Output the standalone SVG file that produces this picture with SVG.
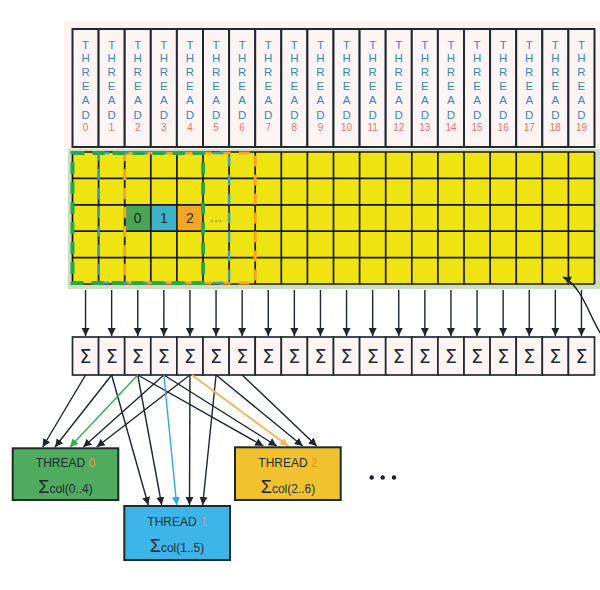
<svg xmlns="http://www.w3.org/2000/svg" width="600" height="590" viewBox="0 0 600 590">
<defs>
<style>
.tb{fill:#fdf5f3;stroke:#1f2b30;stroke-width:2}
.tl{font-family:"Liberation Sans",Arial,sans-serif;font-size:11.5px;fill:#3a86c0;text-anchor:middle}
.tn{font-family:"Liberation Sans",Arial,sans-serif;font-size:10px;fill:#f07070;text-anchor:middle}
.gl{stroke:#151a10;stroke-width:1.7}
.sb{fill:#fdf5f3;stroke:#1f2b30;stroke-width:1.7}
.sg{font-family:"DejaVu Sans",sans-serif;font-size:19px;fill:#1c2a3a;text-anchor:middle}
.ar{stroke:#1c2530;stroke-width:1.4;fill:none}
.bt{font-family:"Liberation Sans",Arial,sans-serif;font-size:12px;fill:#1e2e30}
.bx{stroke:#1e2a2a;stroke-width:2}
.ct{font-family:"Liberation Sans",Arial,sans-serif;font-size:18px;fill:#1a2530;text-anchor:middle}
</style>
<marker id="ah" markerWidth="9" markerHeight="9" refX="8" refY="4.5" orient="auto" markerUnits="userSpaceOnUse"><path d="M0,0.5 L8,4.5 L0,8.5 z" fill="#1c2530"/></marker>
<marker id="ahg" markerWidth="9" markerHeight="9" refX="8" refY="4.5" orient="auto" markerUnits="userSpaceOnUse"><path d="M0,0.5 L8,4.5 L0,8.5 z" fill="#2fb050"/></marker>
<marker id="ahb" markerWidth="9" markerHeight="9" refX="8" refY="4.5" orient="auto" markerUnits="userSpaceOnUse"><path d="M0,0.5 L8,4.5 L0,8.5 z" fill="#30a8e0"/></marker>
<marker id="aho" markerWidth="9" markerHeight="9" refX="8" refY="4.5" orient="auto" markerUnits="userSpaceOnUse"><path d="M0,0.5 L8,4.5 L0,8.5 z" fill="#f5b860"/></marker>
</defs>
<rect x="0" y="0" width="600" height="590" fill="#ffffff"/>
<rect x="64" y="21" width="540" height="131" fill="#fdf4f1"/>

<g id="threads">
<g id="t0"><rect class="tb" x="72.5" y="29" width="26.1" height="118"/><text class="tl"><tspan x="85.55" y="49">T</tspan><tspan x="85.55" y="62">H</tspan><tspan x="85.55" y="76">R</tspan><tspan x="85.55" y="90">E</tspan><tspan x="85.55" y="104">A</tspan><tspan x="85.55" y="119">D</tspan></text><text class="tn" x="85.55" y="131">0</text></g>
<g id="t1"><rect class="tb" x="98.6" y="29" width="26.1" height="118"/><text class="tl"><tspan x="111.65" y="49">T</tspan><tspan x="111.65" y="62">H</tspan><tspan x="111.65" y="76">R</tspan><tspan x="111.65" y="90">E</tspan><tspan x="111.65" y="104">A</tspan><tspan x="111.65" y="119">D</tspan></text><text class="tn" x="111.65" y="131">1</text></g>
<g id="t2"><rect class="tb" x="124.7" y="29" width="26.1" height="118"/><text class="tl"><tspan x="137.75" y="49">T</tspan><tspan x="137.75" y="62">H</tspan><tspan x="137.75" y="76">R</tspan><tspan x="137.75" y="90">E</tspan><tspan x="137.75" y="104">A</tspan><tspan x="137.75" y="119">D</tspan></text><text class="tn" x="137.75" y="131">2</text></g>
<g id="t3"><rect class="tb" x="150.8" y="29" width="26.1" height="118"/><text class="tl"><tspan x="163.85" y="49">T</tspan><tspan x="163.85" y="62">H</tspan><tspan x="163.85" y="76">R</tspan><tspan x="163.85" y="90">E</tspan><tspan x="163.85" y="104">A</tspan><tspan x="163.85" y="119">D</tspan></text><text class="tn" x="163.85" y="131">3</text></g>
<g id="t4"><rect class="tb" x="176.9" y="29" width="26.1" height="118"/><text class="tl"><tspan x="189.95" y="49">T</tspan><tspan x="189.95" y="62">H</tspan><tspan x="189.95" y="76">R</tspan><tspan x="189.95" y="90">E</tspan><tspan x="189.95" y="104">A</tspan><tspan x="189.95" y="119">D</tspan></text><text class="tn" x="189.95" y="131">4</text></g>
<g id="t5"><rect class="tb" x="203" y="29" width="26.1" height="118"/><text class="tl"><tspan x="216.05" y="49">T</tspan><tspan x="216.05" y="62">H</tspan><tspan x="216.05" y="76">R</tspan><tspan x="216.05" y="90">E</tspan><tspan x="216.05" y="104">A</tspan><tspan x="216.05" y="119">D</tspan></text><text class="tn" x="216.05" y="131">5</text></g>
<g id="t6"><rect class="tb" x="229.1" y="29" width="26.1" height="118"/><text class="tl"><tspan x="242.15" y="49">T</tspan><tspan x="242.15" y="62">H</tspan><tspan x="242.15" y="76">R</tspan><tspan x="242.15" y="90">E</tspan><tspan x="242.15" y="104">A</tspan><tspan x="242.15" y="119">D</tspan></text><text class="tn" x="242.15" y="131">6</text></g>
<g id="t7"><rect class="tb" x="255.2" y="29" width="26.1" height="118"/><text class="tl"><tspan x="268.25" y="49">T</tspan><tspan x="268.25" y="62">H</tspan><tspan x="268.25" y="76">R</tspan><tspan x="268.25" y="90">E</tspan><tspan x="268.25" y="104">A</tspan><tspan x="268.25" y="119">D</tspan></text><text class="tn" x="268.25" y="131">7</text></g>
<g id="t8"><rect class="tb" x="281.3" y="29" width="26.1" height="118"/><text class="tl"><tspan x="294.35" y="49">T</tspan><tspan x="294.35" y="62">H</tspan><tspan x="294.35" y="76">R</tspan><tspan x="294.35" y="90">E</tspan><tspan x="294.35" y="104">A</tspan><tspan x="294.35" y="119">D</tspan></text><text class="tn" x="294.35" y="131">8</text></g>
<g id="t9"><rect class="tb" x="307.4" y="29" width="26.1" height="118"/><text class="tl"><tspan x="320.45" y="49">T</tspan><tspan x="320.45" y="62">H</tspan><tspan x="320.45" y="76">R</tspan><tspan x="320.45" y="90">E</tspan><tspan x="320.45" y="104">A</tspan><tspan x="320.45" y="119">D</tspan></text><text class="tn" x="320.45" y="131">9</text></g>
<g id="t10"><rect class="tb" x="333.5" y="29" width="26.1" height="118"/><text class="tl"><tspan x="346.55" y="49">T</tspan><tspan x="346.55" y="62">H</tspan><tspan x="346.55" y="76">R</tspan><tspan x="346.55" y="90">E</tspan><tspan x="346.55" y="104">A</tspan><tspan x="346.55" y="119">D</tspan></text><text class="tn" x="346.55" y="131">10</text></g>
<g id="t11"><rect class="tb" x="359.6" y="29" width="26.1" height="118"/><text class="tl"><tspan x="372.65" y="49">T</tspan><tspan x="372.65" y="62">H</tspan><tspan x="372.65" y="76">R</tspan><tspan x="372.65" y="90">E</tspan><tspan x="372.65" y="104">A</tspan><tspan x="372.65" y="119">D</tspan></text><text class="tn" x="372.65" y="131">11</text></g>
<g id="t12"><rect class="tb" x="385.7" y="29" width="26.1" height="118"/><text class="tl"><tspan x="398.75" y="49">T</tspan><tspan x="398.75" y="62">H</tspan><tspan x="398.75" y="76">R</tspan><tspan x="398.75" y="90">E</tspan><tspan x="398.75" y="104">A</tspan><tspan x="398.75" y="119">D</tspan></text><text class="tn" x="398.75" y="131">12</text></g>
<g id="t13"><rect class="tb" x="411.8" y="29" width="26.1" height="118"/><text class="tl"><tspan x="424.85" y="49">T</tspan><tspan x="424.85" y="62">H</tspan><tspan x="424.85" y="76">R</tspan><tspan x="424.85" y="90">E</tspan><tspan x="424.85" y="104">A</tspan><tspan x="424.85" y="119">D</tspan></text><text class="tn" x="424.85" y="131">13</text></g>
<g id="t14"><rect class="tb" x="437.9" y="29" width="26.1" height="118"/><text class="tl"><tspan x="450.95" y="49">T</tspan><tspan x="450.95" y="62">H</tspan><tspan x="450.95" y="76">R</tspan><tspan x="450.95" y="90">E</tspan><tspan x="450.95" y="104">A</tspan><tspan x="450.95" y="119">D</tspan></text><text class="tn" x="450.95" y="131">14</text></g>
<g id="t15"><rect class="tb" x="464" y="29" width="26.1" height="118"/><text class="tl"><tspan x="477.05" y="49">T</tspan><tspan x="477.05" y="62">H</tspan><tspan x="477.05" y="76">R</tspan><tspan x="477.05" y="90">E</tspan><tspan x="477.05" y="104">A</tspan><tspan x="477.05" y="119">D</tspan></text><text class="tn" x="477.05" y="131">15</text></g>
<g id="t16"><rect class="tb" x="490.1" y="29" width="26.1" height="118"/><text class="tl"><tspan x="503.15" y="49">T</tspan><tspan x="503.15" y="62">H</tspan><tspan x="503.15" y="76">R</tspan><tspan x="503.15" y="90">E</tspan><tspan x="503.15" y="104">A</tspan><tspan x="503.15" y="119">D</tspan></text><text class="tn" x="503.15" y="131">16</text></g>
<g id="t17"><rect class="tb" x="516.2" y="29" width="26.1" height="118"/><text class="tl"><tspan x="529.25" y="49">T</tspan><tspan x="529.25" y="62">H</tspan><tspan x="529.25" y="76">R</tspan><tspan x="529.25" y="90">E</tspan><tspan x="529.25" y="104">A</tspan><tspan x="529.25" y="119">D</tspan></text><text class="tn" x="529.25" y="131">17</text></g>
<g id="t18"><rect class="tb" x="542.3" y="29" width="26.1" height="118"/><text class="tl"><tspan x="555.35" y="49">T</tspan><tspan x="555.35" y="62">H</tspan><tspan x="555.35" y="76">R</tspan><tspan x="555.35" y="90">E</tspan><tspan x="555.35" y="104">A</tspan><tspan x="555.35" y="119">D</tspan></text><text class="tn" x="555.35" y="131">18</text></g>
<g id="t19"><rect class="tb" x="568.4" y="29" width="26.1" height="118"/><text class="tl"><tspan x="581.45" y="49">T</tspan><tspan x="581.45" y="62">H</tspan><tspan x="581.45" y="76">R</tspan><tspan x="581.45" y="90">E</tspan><tspan x="581.45" y="104">A</tspan><tspan x="581.45" y="119">D</tspan></text><text class="tn" x="581.45" y="131">19</text></g>
</g>

<g id="matrix">
<rect x="68" y="149" width="536" height="140" fill="#cfdcc0"/>
<rect x="72.5" y="152" width="522" height="132" fill="#efe412"/>
<rect x="124.7" y="204.8" width="26.1" height="26.4" fill="#4aa556"/>
<rect x="150.8" y="204.8" width="26.1" height="26.4" fill="#3db3c8"/>
<rect x="176.9" y="204.8" width="26.1" height="26.4" fill="#f5a623"/>
<g class="gl">
<line x1="72.5" y1="152" x2="594.5" y2="152"/><line x1="72.5" y1="178.4" x2="594.5" y2="178.4"/><line x1="72.5" y1="204.8" x2="594.5" y2="204.8"/><line x1="72.5" y1="231.2" x2="594.5" y2="231.2"/><line x1="72.5" y1="257.6" x2="594.5" y2="257.6"/><line x1="72.5" y1="284" x2="594.5" y2="284"/>
<line x1="72.5" y1="152" x2="72.5" y2="284"/><line x1="98.6" y1="152" x2="98.6" y2="284"/><line x1="124.7" y1="152" x2="124.7" y2="284"/><line x1="150.8" y1="152" x2="150.8" y2="284"/><line x1="176.9" y1="152" x2="176.9" y2="284"/><line x1="203" y1="152" x2="203" y2="284"/><line x1="229.1" y1="152" x2="229.1" y2="284"/><line x1="255.2" y1="152" x2="255.2" y2="284"/><line x1="281.3" y1="152" x2="281.3" y2="284"/><line x1="307.4" y1="152" x2="307.4" y2="284"/><line x1="333.5" y1="152" x2="333.5" y2="284"/><line x1="359.6" y1="152" x2="359.6" y2="284"/><line x1="385.7" y1="152" x2="385.7" y2="284"/><line x1="411.8" y1="152" x2="411.8" y2="284"/><line x1="437.9" y1="152" x2="437.9" y2="284"/><line x1="464" y1="152" x2="464" y2="284"/><line x1="490.1" y1="152" x2="490.1" y2="284"/><line x1="516.2" y1="152" x2="516.2" y2="284"/><line x1="542.3" y1="152" x2="542.3" y2="284"/><line x1="568.4" y1="152" x2="568.4" y2="284"/><line x1="594.5" y1="152" x2="594.5" y2="284"/>
</g>
<text x="137.75" y="223" font-family="Liberation Sans, Arial, sans-serif" font-size="14" fill="#1e2a1e" text-anchor="middle">0</text>
<text x="163.85" y="223" font-family="Liberation Sans, Arial, sans-serif" font-size="14" fill="#1e2a30" text-anchor="middle">1</text>
<text x="189.95" y="223" font-family="Liberation Sans, Arial, sans-serif" font-size="14" fill="#1e2a1e" text-anchor="middle">2</text>
<text x="216.05" y="222" font-family="Liberation Sans, Arial, sans-serif" font-size="13" fill="#555" text-anchor="middle">…</text>
<rect x="124.7" y="153" width="130.5" height="130" fill="none" stroke="#f2a81e" stroke-width="3" stroke-dasharray="11 8"/>
<rect x="98.6" y="153" width="130.5" height="130" fill="none" stroke="#3aa2b8" stroke-width="2.5" stroke-dasharray="11 8"/>
<rect x="72.5" y="153" width="130.5" height="130" fill="none" stroke="#25a84a" stroke-width="4" stroke-dasharray="12 8"/>
</g>

<g id="sums">
<rect class="sb" x="72.5" y="337" width="26.1" height="38"/><text class="sg" x="85.55" y="363">Σ</text>
<rect class="sb" x="98.6" y="337" width="26.1" height="38"/><text class="sg" x="111.65" y="363">Σ</text>
<rect class="sb" x="124.7" y="337" width="26.1" height="38"/><text class="sg" x="137.75" y="363">Σ</text>
<rect class="sb" x="150.8" y="337" width="26.1" height="38"/><text class="sg" x="163.85" y="363">Σ</text>
<rect class="sb" x="176.9" y="337" width="26.1" height="38"/><text class="sg" x="189.95" y="363">Σ</text>
<rect class="sb" x="203" y="337" width="26.1" height="38"/><text class="sg" x="216.05" y="363">Σ</text>
<rect class="sb" x="229.1" y="337" width="26.1" height="38"/><text class="sg" x="242.15" y="363">Σ</text>
<rect class="sb" x="255.2" y="337" width="26.1" height="38"/><text class="sg" x="268.25" y="363">Σ</text>
<rect class="sb" x="281.3" y="337" width="26.1" height="38"/><text class="sg" x="294.35" y="363">Σ</text>
<rect class="sb" x="307.4" y="337" width="26.1" height="38"/><text class="sg" x="320.45" y="363">Σ</text>
<rect class="sb" x="333.5" y="337" width="26.1" height="38"/><text class="sg" x="346.55" y="363">Σ</text>
<rect class="sb" x="359.6" y="337" width="26.1" height="38"/><text class="sg" x="372.65" y="363">Σ</text>
<rect class="sb" x="385.7" y="337" width="26.1" height="38"/><text class="sg" x="398.75" y="363">Σ</text>
<rect class="sb" x="411.8" y="337" width="26.1" height="38"/><text class="sg" x="424.85" y="363">Σ</text>
<rect class="sb" x="437.9" y="337" width="26.1" height="38"/><text class="sg" x="450.95" y="363">Σ</text>
<rect class="sb" x="464" y="337" width="26.1" height="38"/><text class="sg" x="477.05" y="363">Σ</text>
<rect class="sb" x="490.1" y="337" width="26.1" height="38"/><text class="sg" x="503.15" y="363">Σ</text>
<rect class="sb" x="516.2" y="337" width="26.1" height="38"/><text class="sg" x="529.25" y="363">Σ</text>
<rect class="sb" x="542.3" y="337" width="26.1" height="38"/><text class="sg" x="555.35" y="363">Σ</text>
<rect class="sb" x="568.4" y="337" width="26.1" height="38"/><text class="sg" x="581.45" y="363">Σ</text>
</g>

<g id="connectors">
<g class="ar" marker-end="url(#ah)">
<line x1="85.55" y1="290" x2="85.55" y2="336"/><line x1="111.65" y1="290" x2="111.65" y2="336"/><line x1="137.75" y1="290" x2="137.75" y2="336"/><line x1="163.85" y1="290" x2="163.85" y2="336"/><line x1="189.95" y1="290" x2="189.95" y2="336"/><line x1="216.05" y1="290" x2="216.05" y2="336"/><line x1="242.15" y1="290" x2="242.15" y2="336"/><line x1="268.25" y1="290" x2="268.25" y2="336"/><line x1="294.35" y1="290" x2="294.35" y2="336"/><line x1="320.45" y1="290" x2="320.45" y2="336"/><line x1="346.55" y1="290" x2="346.55" y2="336"/><line x1="372.65" y1="290" x2="372.65" y2="336"/><line x1="398.75" y1="290" x2="398.75" y2="336"/><line x1="424.85" y1="290" x2="424.85" y2="336"/><line x1="450.95" y1="290" x2="450.95" y2="336"/><line x1="477.05" y1="290" x2="477.05" y2="336"/><line x1="503.15" y1="290" x2="503.15" y2="336"/><line x1="529.25" y1="290" x2="529.25" y2="336"/><line x1="555.35" y1="290" x2="555.35" y2="336"/><line x1="581.45" y1="290" x2="581.45" y2="336"/>
<path d="M601,334 C590,318 582,286 563,277"/>
<line x1="85.55" y1="375" x2="42.7" y2="447"/>
<line x1="111.65" y1="375" x2="55" y2="447"/>
<line x1="163.85" y1="375" x2="83.3" y2="447"/>
<line x1="189.95" y1="375" x2="96.7" y2="447"/>
<line x1="111.65" y1="375" x2="148.3" y2="505"/>
<line x1="137.75" y1="375" x2="161.7" y2="505"/>
<line x1="189.95" y1="375" x2="189.5" y2="505"/>
<line x1="216.05" y1="375" x2="202.7" y2="505"/>
<line x1="137.75" y1="375" x2="263.3" y2="446"/>
<line x1="163.85" y1="375" x2="276.7" y2="446"/>
<line x1="216.05" y1="375" x2="302.7" y2="446"/>
<line x1="242.15" y1="375" x2="316.7" y2="446"/>
</g>
<line x1="137.75" y1="375" x2="70" y2="447" stroke="#2fb050" stroke-width="1.4" marker-end="url(#ahg)"/>
<line x1="163.85" y1="375" x2="176.7" y2="505" stroke="#30a8e0" stroke-width="1.4" marker-end="url(#ahb)"/>
<line x1="192" y1="375" x2="288.3" y2="446" stroke="#f5b860" stroke-width="2" marker-end="url(#aho)"/>
</g>

<g id="thread0">
<rect class="bx" x="12.7" y="448.3" width="105.6" height="51.7" fill="#4fab5e"/>
<text class="bt" x="65.5" y="467" text-anchor="middle">THREAD <tspan fill="#f5a030">0</tspan></text>
<text x="65.5" y="493" text-anchor="middle"><tspan class="ct">Σ</tspan><tspan class="bt">col(0..4)</tspan></text>
</g>
<g id="thread1">
<rect class="bx" x="124.3" y="506" width="105.7" height="54" fill="#3db5e8"/>
<text class="bt" x="177" y="525.5" text-anchor="middle">THREAD <tspan fill="#f08080">1</tspan></text>
<text x="177" y="552" text-anchor="middle"><tspan class="ct">Σ</tspan><tspan class="bt">col(1..5)</tspan></text>
</g>
<g id="thread2">
<rect class="bx" x="235" y="447.3" width="105.7" height="52.7" fill="#f2c22e"/>
<text class="bt" x="288" y="466.5" text-anchor="middle">THREAD <tspan fill="#f08a30">2</tspan></text>
<text x="288" y="492.5" text-anchor="middle"><tspan class="ct">Σ</tspan><tspan class="bt">col(2..6)</tspan></text>
</g>
<g id="ellipsis" fill="#1a2030">
<circle cx="371.7" cy="477.5" r="2.2"/><circle cx="382.7" cy="477.5" r="2.2"/><circle cx="394" cy="477.5" r="2.2"/>
</g>
</svg>
